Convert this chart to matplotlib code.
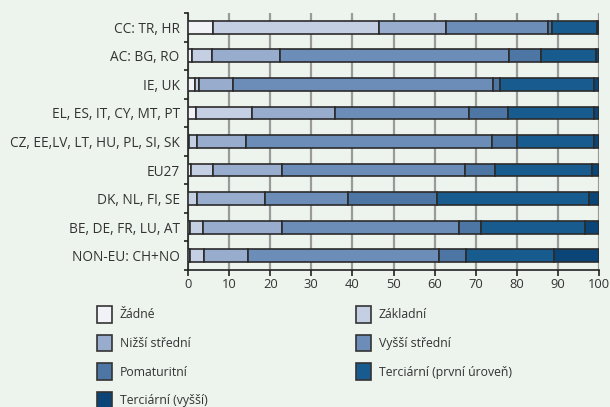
import numpy as np
import matplotlib.pyplot as plt
from matplotlib.patches import Patch

plt.rcParams['font.family'] = ['Open Sans', 'DejaVu Sans']

# categories, top to bottom
categories = ["CC: TR, HR", "AC: BG, RO", "IE, UK", "EL, ES, IT, CY, MT, PT",
              "CZ, EE,LV, LT, HU, PL, SI, SK", "EU27", "DK, NL, FI, SE",
              "BE, DE, FR, LU, AT", "NON-EU: CH+NO"]

series_names = ["Žádné", "Základní", "Nižší střední", "Vyšší střední",
                "Pomaturitní", "Terciární (první úroveň)", "Terciární (vyšší)"]

zadne = [6.0, 0.9, 1.8, 1.9, 0.2, 0.8, 0.1, 0.6, 0.6]
zakladni = [40.4, 4.9, 0.9, 13.6, 1.9, 5.3, 2.1, 3.0, 3.4]
nizsi_stredni = [16.3, 16.7, 8.2, 20.3, 11.9, 16.7, 16.5, 19.3, 10.5]
vyssi_stredni = [24.8, 55.7, 63.4, 32.5, 60.0, 44.6, 20.3, 43.0, 46.6]
pomaturitni = [1.1, 7.7, 1.5, 9.6, 6.0, 7.3, 21.7, 5.4, 6.5]
terc_prvni = [10.8, 13.3, 23.0, 20.9, 18.8, 23.5, 36.8, 25.4, 21.5]
terc_vyssi = [0.6, 0.8, 1.2, 1.2, 1.2, 1.8, 2.5, 3.3, 10.9]

colors = ["#f1f2f8", "#c5cfe3", "#98adcd", "#6b8db8", "#4d76a4", "#175b8f", "#0b4476"]
bg = "#edf3ed"

data = [zadne, zakladni, nizsi_stredni, vyssi_stredni, pomaturitni, terc_prvni, terc_vyssi]

fig = plt.figure(figsize=(6.1, 4.07), dpi=100, facecolor=bg)
ax = fig.add_axes([188 / 610, 1 - 270 / 407, 411 / 610, 257 / 407])
ax.set_facecolor(bg)

y = np.arange(len(categories))
left = np.zeros(len(categories))
handles = []
for name, vals, c in zip(series_names, data, colors):
    vals = np.array(vals)
    ax.barh(y, vals, left=left, height=0.45, color=c, edgecolor="#2b2b2b",
            linewidth=1.2, zorder=3)
    left += vals
    handles.append(Patch(facecolor=c, edgecolor="#333333", linewidth=1.2, label=name))

ax.set_xlim(0, 100)
ax.set_ylim(len(categories) - 0.5, -0.5)
ax.set_xticks(np.arange(0, 101, 10))
ax.xaxis.grid(True, color="#9a9a9a", linewidth=1.6, zorder=0)
ax.set_axisbelow(True)

ax.set_yticks(y)
ax.set_yticklabels(categories)
ax.set_yticks(np.arange(-0.5, len(categories), 1), minor=True)
ax.tick_params(axis='y', which='major', length=0, pad=6, labelsize=9.8, labelcolor="#333333")
ax.tick_params(axis='y', which='minor', length=3, width=1.2, color="#222222")
ax.tick_params(axis='x', length=4, width=1.2, color="#222222", labelsize=9.3, labelcolor="#333333", pad=2)

for s in ["top", "right"]:
    ax.spines[s].set_visible(False)
for s in ["left", "bottom"]:
    ax.spines[s].set_color("#222222")
    ax.spines[s].set_linewidth(1.2)

# legend: two columns placed separately
order1 = [0, 2, 4, 6]
order2 = [1, 3, 5]
leg_kw = dict(frameon=False, fontsize=8.8, handlelength=1.25, handleheight=1.7,
              handletextpad=0.6, labelspacing=1.0, labelcolor="#333333",
              borderaxespad=0, borderpad=0)
fig.legend(handles=[handles[i] for i in order1], loc="upper left",
           bbox_to_anchor=(97 / 610, 1 - 306 / 407), **leg_kw)
fig.legend(handles=[handles[i] for i in order2], loc="upper left",
           bbox_to_anchor=(356 / 610, 1 - 306 / 407), **leg_kw)

fig.savefig("out.png", dpi=100, facecolor=bg)
